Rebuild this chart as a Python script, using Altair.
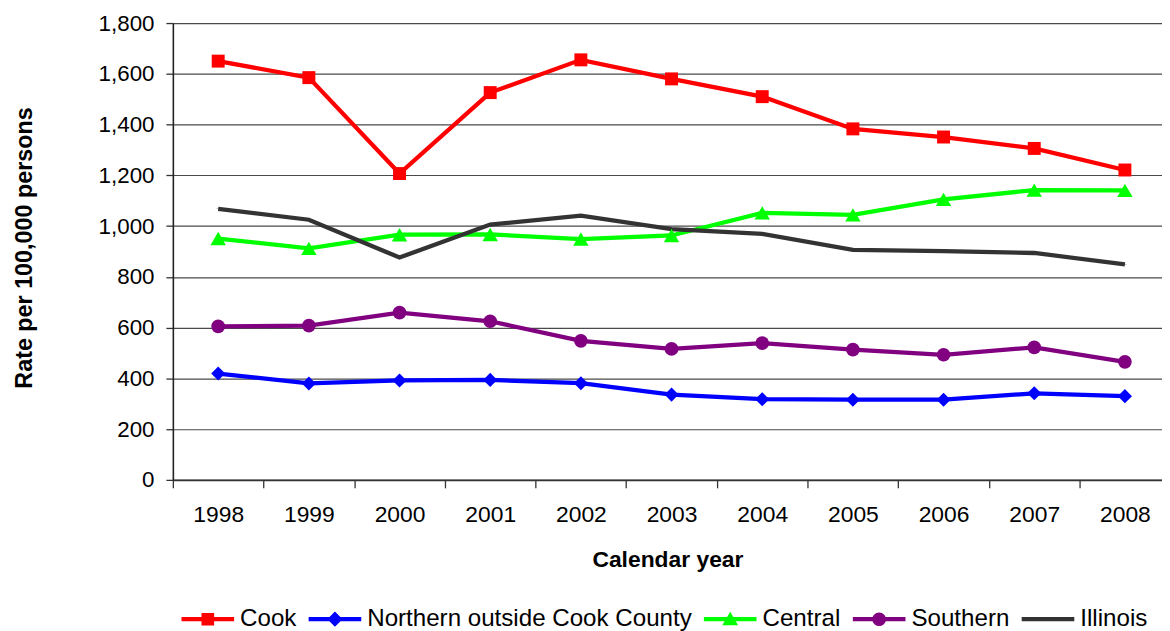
import altair as alt
import pandas as pd

years = [1998, 1999, 2000, 2001, 2002, 2003, 2004, 2005, 2006, 2007, 2008]
series_names = ["Cook", "Northern outside Cook County", "Central", "Southern", "Illinois"]
cook = [1650, 1585, 1207, 1526, 1655, 1580, 1510, 1383, 1351, 1306, 1221]
northern = [419, 380, 392, 394, 381, 336, 318, 316, 316, 341, 330]
central = [951, 912, 966, 967, 949, 963, 1052, 1044, 1105, 1142, 1141]
southern = [605, 608, 659, 625, 548, 516, 539, 513, 493, 522, 465]
illinois = [1068, 1025, 876, 1006, 1041, 988, 969, 906, 901, 894, 849]
colors = ["#FF0000", "#0000FF", "#00FF00", "#800080", "#333333"]
y_ticks = [0, 200, 400, 600, 800, 1000, 1200, 1400, 1600, 1800]

values = [cook, northern, central, southern, illinois]
rows = []
for name, vals in zip(series_names, values):
    for yr, v in zip(years, vals):
        rows.append({"year": yr, "rate": v, "series": name})
df = pd.DataFrame(rows)

FONT = "Liberation Sans"
W, H = 996, 460
step = 91.3
x_dom = [1997.5, 1997.5 + W / step]

# legend symbols: line with marker, as custom symbol paths
bar = "M-1,-0.08H1V0.08H-1Z"
legend_paths = [
    bar + " M-0.24,-0.24H0.24V0.24H-0.24Z",
    bar + " M0,-0.29L0.29,0L0,0.29L-0.29,0Z",
    bar + " M0,-0.28L0.3,0.23L-0.3,0.23Z",
    bar + " M-0.26,0A0.26,0.26 0 1,1 0.26,0A0.26,0.26 0 1,1 -0.26,0Z",
    bar,
]

color_scale = alt.Scale(domain=series_names, range=colors)

x_enc = alt.X(
    "year:Q",
    scale=alt.Scale(domain=x_dom, nice=False, zero=False),
    axis=alt.Axis(
        values=years, format="d", grid=False, tickOffset=-step / 2, labelOffset=step / 2,
        tickSize=8, tickColor="#333333", tickWidth=1.3,
        domainColor="#333333", domainWidth=1.6,
        labelFont=FONT, labelFontSize=23, labelColor="#000000",
        labelBaseline="alphabetic", labelPadding=34, labelFlush=False,
        title="Calendar year", titleFont=FONT, titleFontSize=23, titleFontWeight="bold",
        titleColor="#000000", titleBaseline="alphabetic", titleY=87,
    ),
)
y_enc = alt.Y(
    "rate:Q",
    scale=alt.Scale(domain=[0, 1800], nice=False),
    axis=alt.Axis(
        values=y_ticks, format=",d", grid=True, gridColor="#4a4a4a", gridWidth=1.2,
        tickSize=7, tickColor="#333333", tickWidth=1.3,
        domainColor="#222222", domainWidth=1.6,
        labelFont=FONT, labelFontSize=22.5, labelColor="#000000", labelPadding=12,
        title="Rate per 100,000 persons", titleFont=FONT, titleFontSize=23.5,
        titleFontWeight="bold", titleColor="#000000", titleAngle=270,
        titleBaseline="alphabetic", titleX=-142.6, titleY=226,
    ),
)

base = alt.Chart(df)

leg = alt.Legend(
    title=None, orient="none", direction="horizontal", columns=5,
    legendX=8.7, legendY=573.7, padding=0,
    symbolSize=2809, symbolStrokeWidth=0, symbolOpacity=1,
    labelFont=FONT, labelFontSize=24.3, labelColor="#000000", labelLimit=1000,
    labelOffset=6, columnPadding=12, labelBaseline="middle",
)
# tiny legend-carrying points, drawn first and fully covered by the lines/markers
legend_layer = base.mark_point(filled=True, size=12, opacity=1).encode(
    x=x_enc, y=y_enc,
    color=alt.Color("series:N", scale=color_scale, legend=leg),
    shape=alt.Shape("series:N", scale=alt.Scale(domain=series_names, range=legend_paths), legend=leg),
)

lines_other = base.transform_filter(alt.datum.series != "Illinois").mark_line(strokeWidth=4.3).encode(
    x=x_enc, y=y_enc,
    color=alt.Color("series:N", scale=color_scale, legend=None),
)
lines_il = base.transform_filter(alt.datum.series == "Illinois").mark_line(strokeWidth=4.3).encode(
    x=x_enc, y=y_enc,
    color=alt.Color("series:N", scale=color_scale, legend=None),
)

def pts(name, shape, size):
    return base.transform_filter(alt.datum.series == name).mark_point(
        shape=shape, size=size, filled=True, opacity=1
    ).encode(
        x=x_enc, y=y_enc,
        color=alt.Color("series:N", scale=color_scale, legend=None),
    )

p_cook = pts("Cook", "square", 170)
p_north = pts("Northern outside Cook County", "diamond", 200)
p_central = pts("Central", "triangle-up", 240)
p_south = pts("Southern", "circle", 190)

chart = alt.layer(
    legend_layer, lines_other, lines_il, p_cook, p_north, p_central, p_south
).properties(
    width=W, height=H,
    autosize=alt.AutoSizeParams(type="none"),
    padding={"left": 166, "top": 13, "right": 0, "bottom": 150},
    background="white",
).configure_view(stroke=None)

chart.save("out.html", embed_options={"renderer": "svg", "actions": False})
